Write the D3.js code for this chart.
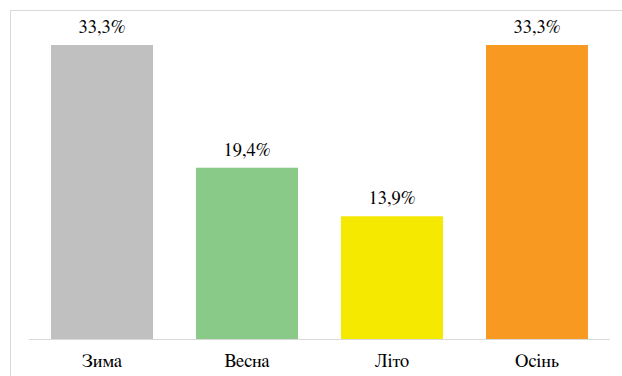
<!DOCTYPE html>
<html>
<head>
<meta charset="utf-8">
<script src="https://cdn.jsdelivr.net/npm/d3@7/dist/d3.min.js"></script>
<style>
  html, body { margin: 0; padding: 0; background: #fff; }
  svg { display: block; }
</style>
</head>
<body>
<svg id="chart" width="622" height="376"></svg>
<script>
// Share of cases by season, percent
const seasons = ["Зима", "Весна", "Літо", "Осінь"];
const shares = [33.3, 19.4, 13.9, 33.3];
const barColors = ["#c0c0c0", "#8aca88", "#f5e900", "#f89a22"];

const svg = d3.select("#chart");
const W = 622, H = 376;
const font = "FreeSerif, 'Times New Roman', serif";

// Chart frame
svg.append("rect")
  .attr("x", 10.5).attr("y", 10.5)
  .attr("width", W + 10).attr("height", H + 10)
  .attr("fill", "#fff")
  .attr("stroke", "#d9d9d9")
  .attr("stroke-width", 1);

const plot = { left: 29, right: 610, top: 45, bottom: 339 };

const x = d3.scaleBand()
  .domain(seasons)
  .range([plot.left, plot.right])
  .paddingInner(0.2966)
  .paddingOuter(0.152);

const y = d3.scaleLinear()
  .domain([0, 33.3])
  .range([plot.bottom, plot.top]);

const data = seasons.map((s, i) => ({ season: s, value: shares[i], color: barColors[i] }));

svg.append("g").selectAll("rect")
  .data(data)
  .join("rect")
  .attr("x", d => x(d.season))
  .attr("y", d => y(d.value))
  .attr("width", x.bandwidth())
  .attr("height", d => y(0) - y(d.value))
  .attr("fill", d => d.color);

// Category axis
const axis = svg.append("g")
  .attr("transform", `translate(0,${plot.bottom + 0.5})`)
  .call(d3.axisBottom(x).tickSize(0).tickPadding(14));
axis.attr("font-family", font).attr("font-size", 18.5);
axis.select(".domain").attr("stroke", "#d9d9d9").attr("d", `M${plot.left},0H${plot.right}`);
axis.selectAll("text").attr("fill", "#000");

// Value labels
const fmt = v => v.toFixed(1).replace(".", ",") + "%";
svg.append("g").selectAll("text")
  .data(data)
  .join("text")
  .attr("x", d => x(d.season) + x.bandwidth() / 2)
  .attr("y", d => y(d.value) - 12)
  .attr("text-anchor", "middle")
  .attr("font-family", font)
  .attr("font-size", 18.5)
  .attr("fill", "#000")
  .text(d => fmt(d.value));
</script>
</body>
</html>
